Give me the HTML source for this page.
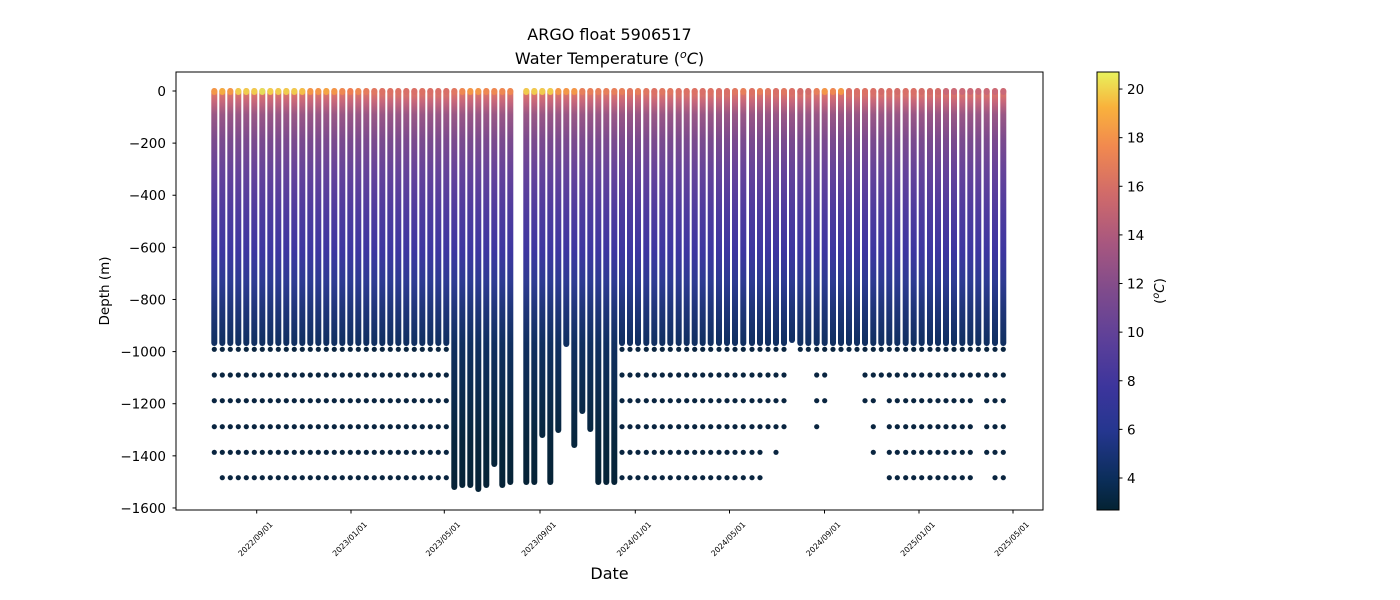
<!DOCTYPE html>
<html><head><meta charset="utf-8"><style>
html,body{margin:0;padding:0;background:#fff;}
svg{display:block;font-family:"DejaVu Sans","Liberation Sans",sans-serif;}
</style></head><body>
<svg id="s" width="1400" height="600" xmlns="http://www.w3.org/2000/svg">
<defs>
<linearGradient id="bar" gradientUnits="userSpaceOnUse" x1="0" y1="88" x2="0" y2="530">
<stop offset="0" stop-color="#e8805a"/>
<stop offset="0.03" stop-color="#c8677a"/>
<stop offset="0.06" stop-color="#9a5785"/>
<stop offset="0.12" stop-color="#7a4a8e"/>
<stop offset="0.19" stop-color="#65439a"/>
<stop offset="0.28" stop-color="#4e3b9e"/>
<stop offset="0.37" stop-color="#3d36a0"/>
<stop offset="0.44" stop-color="#2e3a92"/>
<stop offset="0.5" stop-color="#1f357a"/>
<stop offset="0.58" stop-color="#102f60"/>
<stop offset="0.8" stop-color="#07263d"/>
<stop offset="1" stop-color="#041f30"/>
</linearGradient>
<linearGradient id="cb" x1="0" y1="1" x2="0" y2="0">
<stop offset="0" stop-color="#042333"/>
<stop offset="0.07" stop-color="#0b2e5a"/>
<stop offset="0.18" stop-color="#25368f"/>
<stop offset="0.28" stop-color="#3c359c"/>
<stop offset="0.39" stop-color="#5d4099"/>
<stop offset="0.5" stop-color="#7f4b8c"/>
<stop offset="0.61" stop-color="#a8577f"/>
<stop offset="0.72" stop-color="#d06a6a"/>
<stop offset="0.83" stop-color="#f1894f"/>
<stop offset="0.92" stop-color="#f9b23c"/>
<stop offset="1" stop-color="#e8f25c"/>
</linearGradient>
</defs>
<g id="data"></g>
<rect x="176" y="72" width="867" height="438" fill="none" stroke="#000" stroke-width="1"/>
<g id="axes" font-size="13.5" fill="#000"></g>
<text x="609.5" y="40" font-size="16" text-anchor="middle">ARGO float 5906517</text>
<text x="609.5" y="64" font-size="16" text-anchor="middle">Water Temperature (<tspan font-style="italic" font-size="11" dy="-6">o</tspan><tspan font-style="italic" dy="6">C</tspan>)</text>
<text x="609.5" y="579" font-size="16" text-anchor="middle">Date</text>
<text transform="translate(109,291) rotate(-90)" font-size="13.5" text-anchor="middle">Depth (m)</text>
<rect x="1097" y="72" width="22" height="438" fill="url(#cb)" stroke="#000" stroke-width="1"/>
<text transform="translate(1164,291) rotate(-90)" font-size="13.5" text-anchor="middle">(<tspan font-style="italic" font-size="9.5" dy="-5">o</tspan><tspan font-style="italic" dy="5">C</tspan>)</text>
</svg>
<script>
var NS="http://www.w3.org/2000/svg";
function el(p,t,a,txt){var e=document.createElementNS(NS,t);for(var k in a)e.setAttribute(k,a[k]);if(txt!=null)e.textContent=txt;p.appendChild(e);return e;}
var d=document.getElementById('data'),ax=document.getElementById('axes'),s=document.getElementById('s');
function Y(m){return 91+0.2606*m;}
var rowsY=[349.3,375,400.7,426.7,452.3,477.7];
var cols=[];
var topc=['#f59a45','#f6b03c','#f59a45','#f2d44a','#f2d44a','#f2d44a','#e6e858','#f4d64a','#f2d44a','#f2d44a','#f2d44a','#f6c544','#f59845','#f59845','#f6a840','#f59845','#f08a50','#f07e52','#f08a50','#e77c5c','#e07762','#db7065','#db7065','#db7065','#d86e68','#d86e68','#db7065','#d86e68','#d86e68','#d86e68','#e07762','#f08a50','#f59a45','#f59a45','#f08a50','#f08a50','#f08a50','#f08a50'];
for(var i=0;i<=50;i++){if(i==38)continue;cols.push({x:214.3+8*i,i:i});}
var bottoms={30:487,31:485,32:485,33:489,34:485,35:464,36:485,37:482,39:482,40:482,41:435,42:482,43:430,44:344,45:445,46:411,47:429,48:482,49:482,50:482};
cols.forEach(function(c){
 var b=bottoms[c.i]||343; var tc=topc[c.i]||(c.i>=39&&c.i<=42?'#f2d44a':(c.i<=45?'#f59a45':'#e8805a'));
 el(d,'line',{x1:c.x,y1:91,x2:c.x,y2:b,stroke:'url(#bar)','stroke-width':6,'stroke-linecap':'round'});
 el(d,'rect',{x:c.x-3,y:88,width:6,height:7,rx:3,fill:tc,opacity:0.9});
 if(c.i<=29){for(var r=0;r<6;r++){if(r==5&&c.i==0)continue;el(d,'circle',{cx:c.x,cy:rowsY[r],r:2.6,fill:'#0a2540'});}}
});
var R=[[622,5],[630,5],[638,5],[646.3,5],[654.3,5],[662.3,5],[670.3,5],[678.7,5],[686.7,5],[694.7,5],[702.7,5],[710.7,5],[719,5],[727,5],[735,5],[743.3,5],[752,5],[760,5],[768,'0123'],[776,'01234'],[784,'0123'],[792,''],[800.3,'0'],[808.3,'0'],[816.7,'0123'],[824.7,'012'],[833,'0'],[841,'0'],[849,'0'],[857,'0'],[865,'012'],[873.3,'01234'],[881.3,'01'],[889.3,5],[897.3,5],[905.7,5],[913.7,5],[921.7,5],[930,5],[938,5],[946,5],[954,5],[962.3,5],[970.3,5],[978.3,'01'],[986.7,'01234'],[995,5],[1003.3,5]];
var rtop=['#e8805a','#e07762','#e8805a','#e07762','#db7065','#e07762','#e07762','#db7065','#db7065','#db7065','#d86e68','#db7065','#d86e68','#d86e68','#e07762','#e8805a','#db7065','#e8805a','#e07762','#d86e68','#e07762','#d86e68','#d06a6a','#d06a6a','#e8805a','#f59a45','#f08a50','#f59a45','#d86e68','#d86e68','#db7065','#d86e68','#d06a6a','#d86e68','#d06a6a','#d86e68','#d86e68','#d06a6a','#d06a6a','#d06a6a','#c8677a','#c8677a','#c8677a','#c8677a','#c8677a','#c8677a','#c8677a','#c8677a'];
R.forEach(function(c,k){
 var x=c[0],rs=c[1]===5?'012345':c[1];
 el(d,'line',{x1:x,y1:91,x2:x,y2:(x==792?340:343),stroke:'url(#bar)','stroke-width':6,'stroke-linecap':'round'});
 el(d,'rect',{x:x-3,y:88,width:6,height:7,rx:3,fill:rtop[k],opacity:0.9});
 for(var j=0;j<rs.length;j++)el(d,'circle',{cx:x,cy:rowsY[+rs[j]],r:2.6,fill:'#0a2540'});
});
for(var v=0;v<=1600;v+=200){var y=Y(v);el(ax,'line',{x1:172.5,y1:y,x2:176,y2:y,stroke:'#000','stroke-width':1});
 el(ax,'text',{x:166,y:y+5,'text-anchor':'end'},v==0?'0':'\u2212'+v);}
var xt=[[256.7,'2022/09/01'],[351,'2023/01/01'],[444.3,'2023/05/01'],[540,'2023/09/01'],[635.3,'2024/01/01'],[729.5,'2024/05/01'],[824.5,'2024/09/01'],[919,'2025/01/01'],[1013,'2025/05/01']];
xt.forEach(function(t){el(ax,'line',{x1:t[0],y1:510,x2:t[0],y2:513.5,stroke:'#000','stroke-width':1});
 el(s,'text',{transform:'translate('+(t[0]+16.5)+',525) rotate(-45)','text-anchor':'end','font-size':'7.8'},t[1]);});
for(var v=4;v<=20;v+=2){var y=478-(v-4)*24.31;el(s,'line',{x1:1119,y1:y,x2:1122.5,y2:y,stroke:'#000','stroke-width':1});
 el(s,'text',{x:1127,y:y+5,'font-size':'13.5'},String(v));}
</script>
</body></html>
